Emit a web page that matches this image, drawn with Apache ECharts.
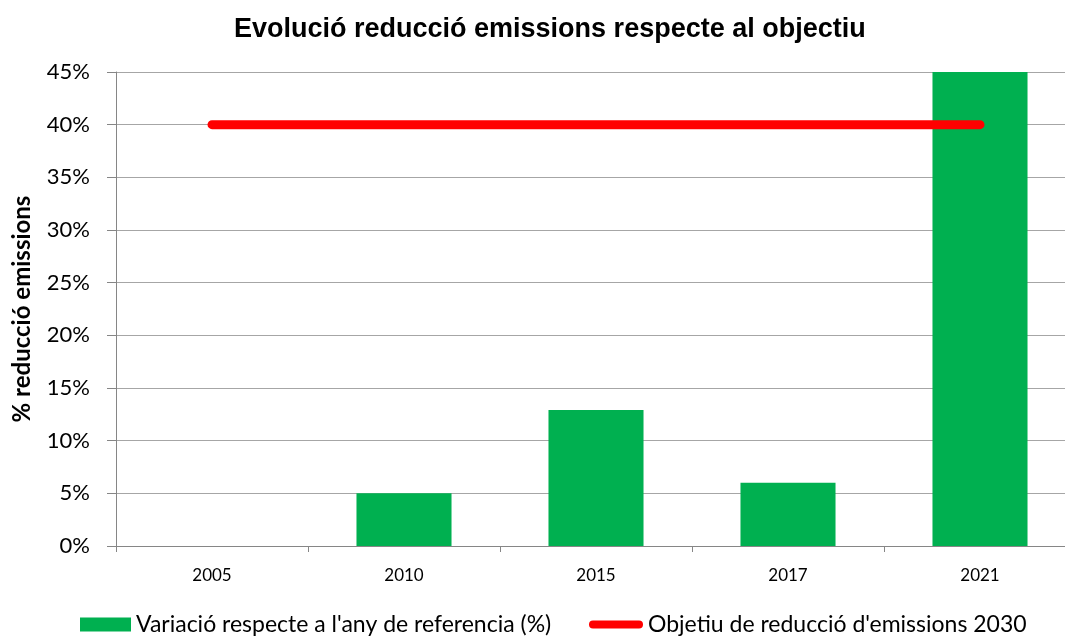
<!DOCTYPE html>
<html>
<head>
<meta charset="utf-8">
<title>Evolució reducció emissions</title>
<script src="https://cdn.jsdelivr.net/npm/echarts@6/dist/echarts.min.js"></script>
<style>
  html, body { margin: 0; padding: 0; background: #fff; overflow: hidden; }
  /* el gràfic original es talla una mica per la dreta */
  #chart { width: 1076px; height: 636px; }
</style>
</head>
<body>
<div id="chart"></div>
<script>
// dades llegides del gràfic
var anys = ['2005', '2010', '2015', '2017', '2021'];
var variacio = [0, 5.0, 12.9, 6.0, 45];
var objectiu = [40, 40, 40, 40, 40];

var myChart = echarts.init(document.getElementById('chart'));

var option = {
    animation: false,
    title: {
        text: 'Evolució reducció emissions respecte al objectiu',
        left: 229,
        top: 11,
        textStyle: {
            fontFamily: 'Liberation Sans',
            fontSize: 27,
            fontWeight: 'bold',
            color: '#000'
        }
    },
    grid: {
        left: 116,
        right: 0,
        top: 72,
        bottom: 90
    },
    legend: [
        {
            data: ['Variació respecte a l\'any de referencia (%)'],
            left: 75,
            top: 608,
            icon: 'rect',
            itemWidth: 51,
            itemHeight: 14,
            textStyle: { fontFamily: 'Lato', fontSize: 23, color: '#000' }
        },
        {
            data: ['Objetiu de reducció d\'emissions 2030'],
            left: 584,
            top: 608,
            icon: 'path://M4,0 L50,0 A4,4 0 0 1 50,8 L4,8 A4,4 0 0 1 4,0 Z',
            itemWidth: 54,
            itemHeight: 8,
            textStyle: { fontFamily: 'Lato', fontSize: 23, color: '#000' }
        }
    ],
    xAxis: {
        type: 'category',
        data: anys,
        axisLine: { lineStyle: { color: '#868686', width: 1 } },
        axisTick: { show: true, length: 6, lineStyle: { color: '#868686' } },
        axisLabel: {
            fontFamily: 'Lato',
            fontSize: 17,
            color: '#000',
            margin: 21
        }
    },
    yAxis: {
        type: 'value',
        min: 0,
        max: 45,
        interval: 5,
        name: '% reducció emissions',
        nameLocation: 'middle',
        nameGap: 82,
        nameTextStyle: {
            fontFamily: 'Lato',
            fontSize: 24,
            fontWeight: 'bold',
            color: '#000'
        },
        axisLine: { show: true, lineStyle: { color: '#868686', width: 1 } },
        axisTick: { show: true, length: 9, lineStyle: { color: '#868686' } },
        axisLabel: {
            formatter: '{value}%',
            fontFamily: 'Lato',
            fontSize: 22,
            color: '#000',
            margin: 26
        },
        splitLine: { show: true, lineStyle: { color: '#a6a6a6', width: 1 } }
    },
    series: [
        {
            name: 'Variació respecte a l\'any de referencia (%)',
            type: 'bar',
            data: variacio,
            barWidth: '49.5%',
            itemStyle: { color: '#00b050' }
        },
        {
            name: 'Objetiu de reducció d\'emissions 2030',
            type: 'line',
            data: objectiu,
            showSymbol: false,
            symbol: 'none',
            lineStyle: { color: '#ff0000', width: 9, cap: 'round' },
            itemStyle: { color: '#ff0000' },
            z: 3
        }
    ]
};

myChart.setOption(option);
</script>
</body>
</html>
